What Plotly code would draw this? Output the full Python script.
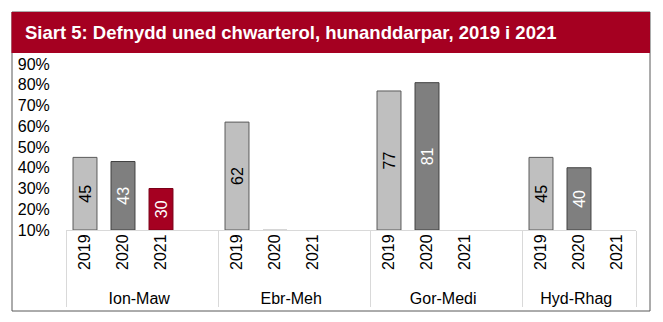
import plotly.graph_objects as go

# ---- data ----
groups = ["Ion-Maw", "Ebr-Meh", "Gor-Medi", "Hyd-Rhag"]
years = ["2019", "2020", "2021"]
v2019 = [45, 62, 77, 45]
v2020 = [43, 10, 81, 40]
v2021 = [30, None, None, None]
lab2019 = ["45", "62", "77", "45"]
lab2020 = ["43", "", "81", "40"]
lab2021 = ["30", "", "", ""]
axis_min = 10
title = "Siart 5: Defnydd uned chwarterol, hunanddarpar, 2019 i 2021"

# ---- styles ----
FONT = "Liberation Sans, Arial, sans-serif"
RED = "#a50021"
fill = {"2019": "#bfbfbf", "2020": "#7f7f7f", "2021": RED}
edge = {"2019": "#595959", "2020": "#404040", "2021": "#7a0018"}
tcol = {"2019": "black", "2020": "white", "2021": "white"}

vals = {"2019": v2019, "2020": v2020, "2021": v2021}
labs = {"2019": lab2019, "2020": lab2020, "2021": lab2021}

xg, xs, ys, txt, cols, lcols, tcols = [], [], [], [], [], [], []
for gi, g in enumerate(groups):
    for yr in years:
        v = vals[yr][gi]
        xg.append(g); xs.append(yr)
        ys.append(None if v is None else v - axis_min); txt.append(labs[yr][gi])
        cols.append(fill[yr])
        # a bar sitting exactly on the axis minimum shows only a faint edge
        lcols.append("#c8c8c8" if v == axis_min else edge[yr])
        tcols.append(tcol[yr])
    if gi < len(groups) - 1:
        xg.append(g); xs.append(" ")
        ys.append(None); txt.append("")
        cols.append("white"); lcols.append("white"); tcols.append("black")

W, H = 663, 322
L, R, T, B = 66, 636, 64, 230


def px(x):
    return (x - L) / (R - L)


def py(y):
    return (B - y) / (B - T)


fig = go.Figure(go.Bar(
    x=[xg, xs], y=ys, base=axis_min, text=txt,
    textposition="inside", insidetextanchor="middle", textangle=-90,
    textfont=dict(family=FONT, size=16, color=tcols),
    marker=dict(color=cols, line=dict(color=lcols, width=1)),
    hoverinfo="skip",
))

fig.update_layout(
    width=W, height=H,
    margin=dict(l=L, r=W - R, t=T, b=H - B),
    paper_bgcolor="white", plot_bgcolor="white",
    bargap=0.37, showlegend=False,
    font=dict(family=FONT, size=16, color="black"),
    xaxis=dict(type="multicategory", tickangle=-90, showline=True,
               linecolor="#d9d9d9", linewidth=1, showdividers=True,
               dividercolor="#d9d9d9", dividerwidth=1, showgrid=False,
               ticklabelstandoff=-3,
               tickfont=dict(family=FONT, size=16, color="black")),
    yaxis=dict(range=[10, 90], dtick=10, ticksuffix="%", showgrid=False,
               zeroline=False, showline=False, ticks="outside", ticklen=12,
               tickcolor="rgba(0,0,0,0)",
               tickfont=dict(family=FONT, size=16, color="black")),
    shapes=[
        dict(type="rect", xref="paper", yref="paper",
             x0=px(12), x1=px(650), y0=py(311), y1=py(12),
             line=dict(color="#595959", width=1), fillcolor="rgba(0,0,0,0)"),
        dict(type="rect", xref="paper", yref="paper",
             x0=px(11.5), x1=px(650), y0=py(53), y1=py(12),
             line=dict(width=0), fillcolor=RED),
    ],
    annotations=[dict(text=title, xref="paper", yref="paper",
                      x=px(23), y=py(33), xanchor="left", yanchor="middle",
                      showarrow=False,
                      font=dict(family=FONT, size=18.5, color="white", weight="bold"))],
)

fig.write_html("out.html")
